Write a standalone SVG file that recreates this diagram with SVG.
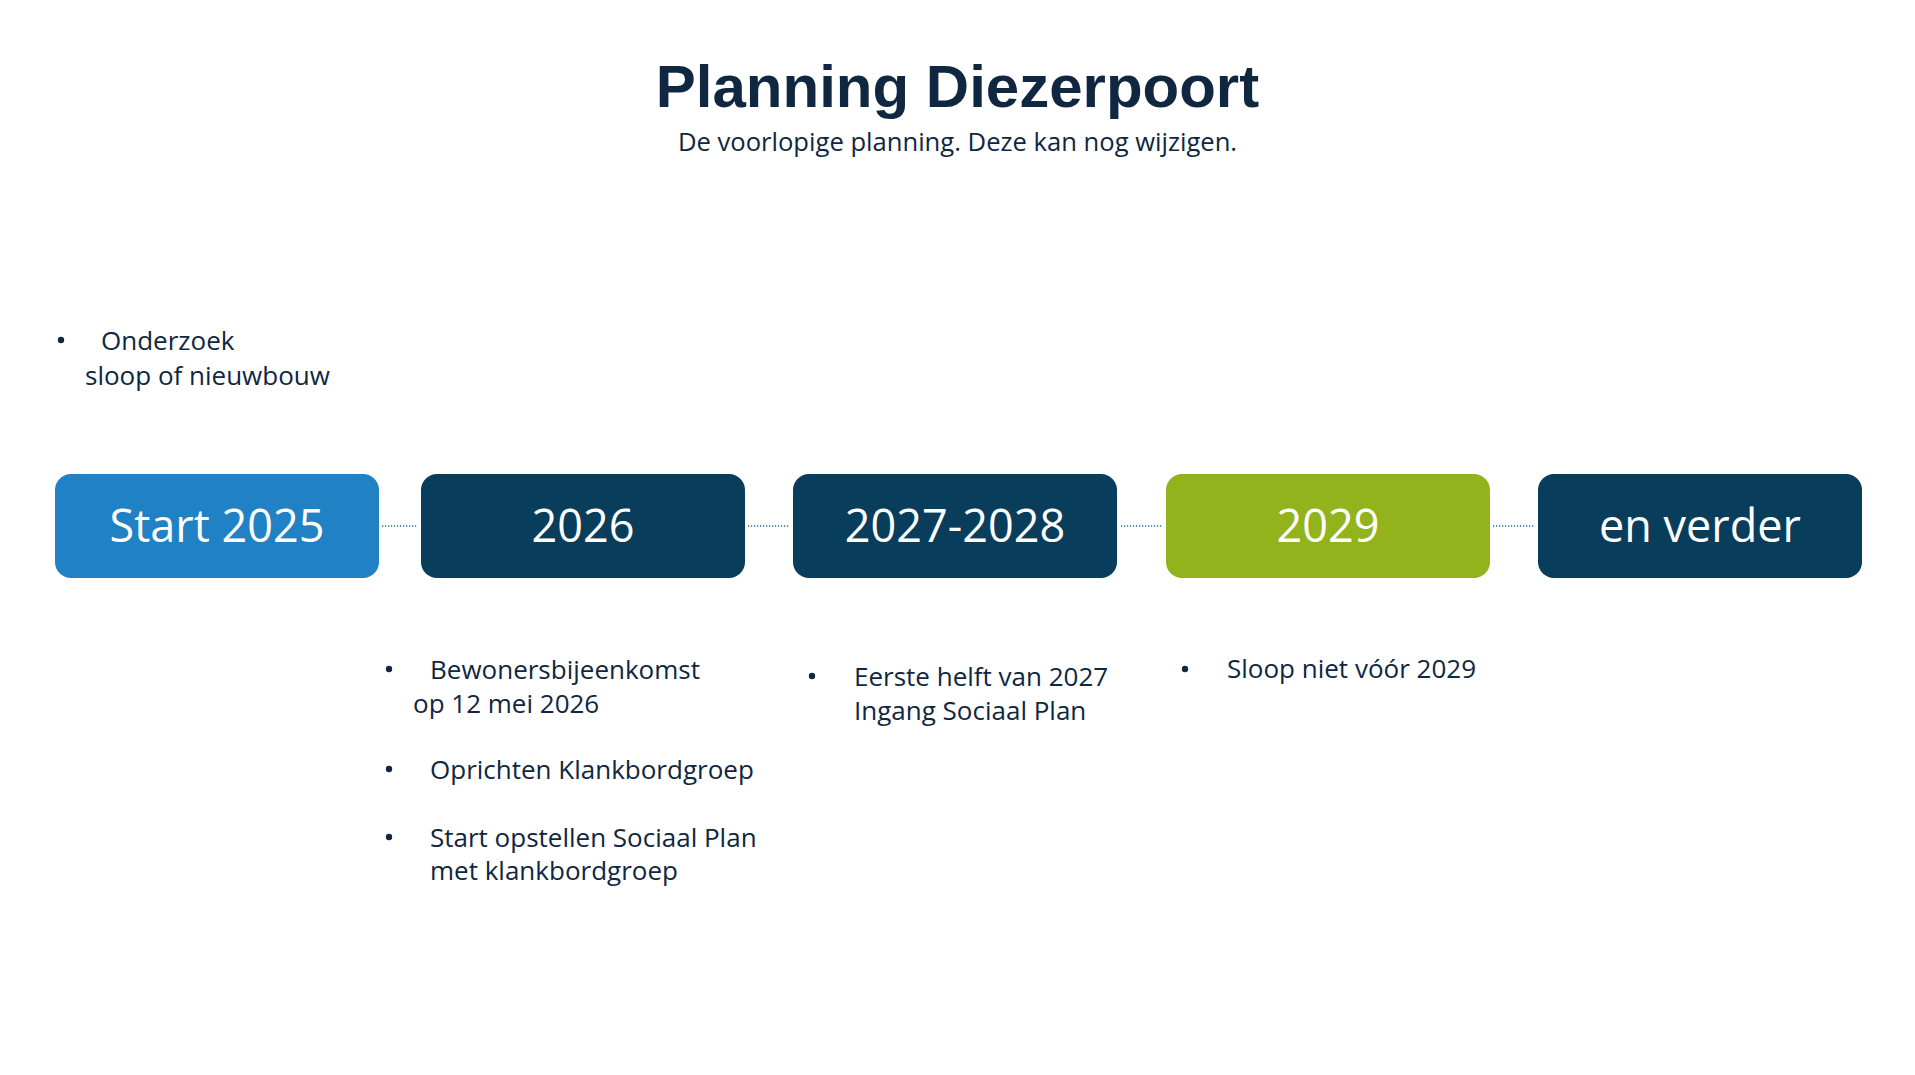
<svg xmlns="http://www.w3.org/2000/svg" width="1915" height="1075" viewBox="0 0 1915 1075">
  <style>
    .title { font-family: "Liberation Sans", Arial, sans-serif; font-weight: bold; font-size: 60px; fill: #0F2741; }
    .sub { font-family: "Open Sans", "Liberation Sans", sans-serif; font-size: 25.6px; fill: #0F2741; }
    .body { font-family: "Open Sans", "Liberation Sans", sans-serif; font-size: 26px; fill: #0F2741; }
    .box-label { font-family: "Open Sans", "Liberation Sans", sans-serif; font-size: 45px; fill: #FFFFFF; text-anchor: middle; }
    .dark { fill: #083D5C; }
    .conn { stroke: #1F6A96; stroke-width: 1.5; stroke-dasharray: 1.2 1.8; fill: none; }
  </style>
  <rect width="1915" height="1075" fill="#FFFFFF"/>

  <g id="header">
    <text class="title" x="957.5" y="107" text-anchor="middle">Planning Diezerpoort</text>
    <text class="sub" x="957.5" y="151" text-anchor="middle">De voorlopige planning. Deze kan nog wijzigen.</text>
  </g>

  <g id="connectors">
    <line class="conn" x1="382" y1="526" x2="418" y2="526"/>
    <line class="conn" x1="748" y1="526" x2="790" y2="526"/>
    <line class="conn" x1="1121" y1="526" x2="1163" y2="526"/>
    <line class="conn" x1="1493" y1="526" x2="1535" y2="526"/>
  </g>

  <g id="node-start-2025">
    <rect x="55" y="474" width="324" height="104" rx="16" fill="#2181C5"/>
    <text class="box-label" x="217" y="542">Start 2025</text>
  </g>
  <g id="node-2026">
    <rect class="dark" x="421" y="474" width="324" height="104" rx="16"/>
    <text class="box-label" x="583" y="542">2026</text>
  </g>
  <g id="node-2027-2028">
    <rect class="dark" x="793" y="474" width="324" height="104" rx="16"/>
    <text class="box-label" x="955" y="542">2027-2028</text>
  </g>
  <g id="node-2029">
    <rect x="1166" y="474" width="324" height="104" rx="16" fill="#93B31C"/>
    <text class="box-label" x="1328" y="542">2029</text>
  </g>
  <g id="node-en-verder">
    <rect class="dark" x="1538" y="474" width="324" height="104" rx="16"/>
    <text class="box-label" x="1700" y="542">en verder</text>
  </g>

  <g id="notes-2025">
    <circle cx="61" cy="340" r="3.2" fill="#0F2741"/>
    <text class="body" x="101" y="350">Onderzoek</text>
    <text class="body" x="85" y="385">sloop of nieuwbouw</text>
  </g>

  <g id="notes-2026">
    <circle cx="389" cy="669" r="3.2" fill="#0F2741"/>
    <text class="body" x="430" y="679">Bewonersbijeenkomst</text>
    <text class="body" x="413" y="713">op 12 mei 2026</text>
    <circle cx="389" cy="769" r="3.2" fill="#0F2741"/>
    <text class="body" x="430" y="779">Oprichten Klankbordgroep</text>
    <circle cx="389" cy="837" r="3.2" fill="#0F2741"/>
    <text class="body" x="430" y="847">Start opstellen Sociaal Plan</text>
    <text class="body" x="430" y="880">met klankbordgroep</text>
  </g>

  <g id="notes-2027">
    <circle cx="812" cy="676" r="3.2" fill="#0F2741"/>
    <text class="body" x="854" y="686">Eerste helft van 2027</text>
    <text class="body" x="854" y="720">Ingang Sociaal Plan</text>
  </g>

  <g id="notes-2029">
    <circle cx="1185" cy="669" r="3.2" fill="#0F2741"/>
    <text class="body" x="1227" y="678">Sloop niet vóór 2029</text>
  </g>
</svg>
